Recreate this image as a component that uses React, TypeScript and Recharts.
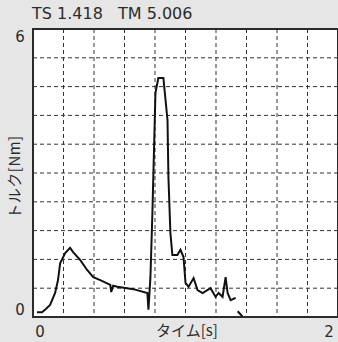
import { LineChart, Line, XAxis, YAxis, CartesianGrid, ReferenceArea, Customized } from "recharts";

// time [s] and torque [Nm]
const times = [
  0.026, 0.059, 0.086, 0.112, 0.145, 0.164, 0.178, 0.211, 0.243, 0.263, 0.309, 0.355, 0.395,
  0.441, 0.507, 0.513, 0.526, 0.553, 0.658, 0.75, 0.757, 0.763, 0.77, 0.783, 0.803, 0.822,
  0.855, 0.882, 0.888, 0.901, 0.914, 0.947, 0.967, 0.987, 1.0, 1.02, 1.053, 1.079, 1.112,
  1.164, 1.197, 1.217, 1.243, 1.263, 1.276, 1.296, 1.329, 1.335, 1.342, 1.382,
];
const torque: (number | null)[] = [
  0.1, 0.1, 0.17, 0.25, 0.5, 0.77, 1.12, 1.33, 1.44, 1.35, 1.19, 0.98, 0.83,
  0.77, 0.67, 0.52, 0.65, 0.63, 0.58, 0.5, 0.15, 0.46, 0.83, 2.17, 4.67, 4.98,
  4.98, 4.1, 2.92, 1.75, 1.29, 1.29, 1.4, 1.25, 0.71, 0.63, 0.81, 0.56, 0.5,
  0.6, 0.42, 0.5, 0.42, 0.83, 0.5, 0.35, 0.4, null, 0.12, -0.02,
];

const xTicks = [0, 2];
const yTicks = [0, 6];
const xGrid = [0.2, 0.4, 0.6, 0.8, 1.0, 1.2, 1.4, 1.6, 1.8];
const yGrid = [0.6, 1.2, 1.8, 2.4, 3.0, 3.6, 4.2, 4.8, 5.4];

const tsLabel = "TS 1.418";
const tmLabel = "TM 5.006";

const data = times.map((t, i) => ({ t, v: torque[i] }));

const latin = "'DejaVu Sans', sans-serif";
const jp = "'Noto Sans CJK JP', sans-serif";
const ink = "#2b2b2b";

const XTick = (props: any) => {
  const { x, y, payload } = props;
  const last = payload.value === 2;
  return (
    <text x={last ? x - 5 : x + 7} y={y + 12} textAnchor="middle" fontSize={15} fill={ink} fontFamily={latin}>
      {payload.value}
    </text>
  );
};

const YTick = (props: any) => {
  const { y, payload } = props;
  const top = payload.value === 6;
  return (
    <text x={20} y={top ? y + 13 : y - 2} textAnchor="middle" fontSize={15} fill={ink} fontFamily={latin}>
      {payload.value}
    </text>
  );
};

const Texts = () => (
  <g fill={ink}>
    <text x={32} y={19} fontSize={16} fontFamily={latin}>{tsLabel}</text>
    <text x={118} y={19} fontSize={16} fontFamily={latin}>{tmLabel}</text>
    <text x={187} y={336} fontSize={15} fontFamily={jp} textAnchor="middle">タイム[s]</text>
    <text
      x={0}
      y={0}
      fontSize={15}
      fontFamily={jp}
      textAnchor="middle"
      letterSpacing={0.5}
      transform="translate(20 177) rotate(-90)"
    >
      トルク[Nm]
    </text>
  </g>
);

const App = () => {
  return (
    <div style={{ position: "fixed", top: 0, left: 0, width: 338, height: 342, background: "#e6e6e6" }}>
      <LineChart width={338} height={342} data={data} margin={{ top: 29, right: 0, bottom: 0, left: 0 }}>
        <CartesianGrid
          fill="#ffffff"
          stroke="#333"
          strokeDasharray="4 3"
          horizontalValues={yGrid}
          verticalValues={xGrid}
        />
        <ReferenceArea x1={0} x2={2} y1={0} y2={6} fill="none" stroke={ink} strokeWidth={2} ifOverflow="visible" />
        <XAxis
          type="number"
          dataKey="t"
          domain={[0, 2]}
          ticks={xTicks}
          height={25}
          tick={<XTick />}
          tickLine={false}
          axisLine={{ stroke: ink, strokeWidth: 2 }}
        />
        <YAxis
          type="number"
          domain={[0, 6]}
          ticks={yTicks}
          width={33}
          tick={<YTick />}
          tickLine={false}
          allowDataOverflow
          axisLine={{ stroke: ink, strokeWidth: 2 }}
        />
        <Line
          type="linear"
          dataKey="v"
          stroke="#111"
          strokeWidth={2}
          dot={false}
          connectNulls={false}
          isAnimationActive={false}
        />
        <Customized component={Texts} />
      </LineChart>
    </div>
  );
};

export default App;
